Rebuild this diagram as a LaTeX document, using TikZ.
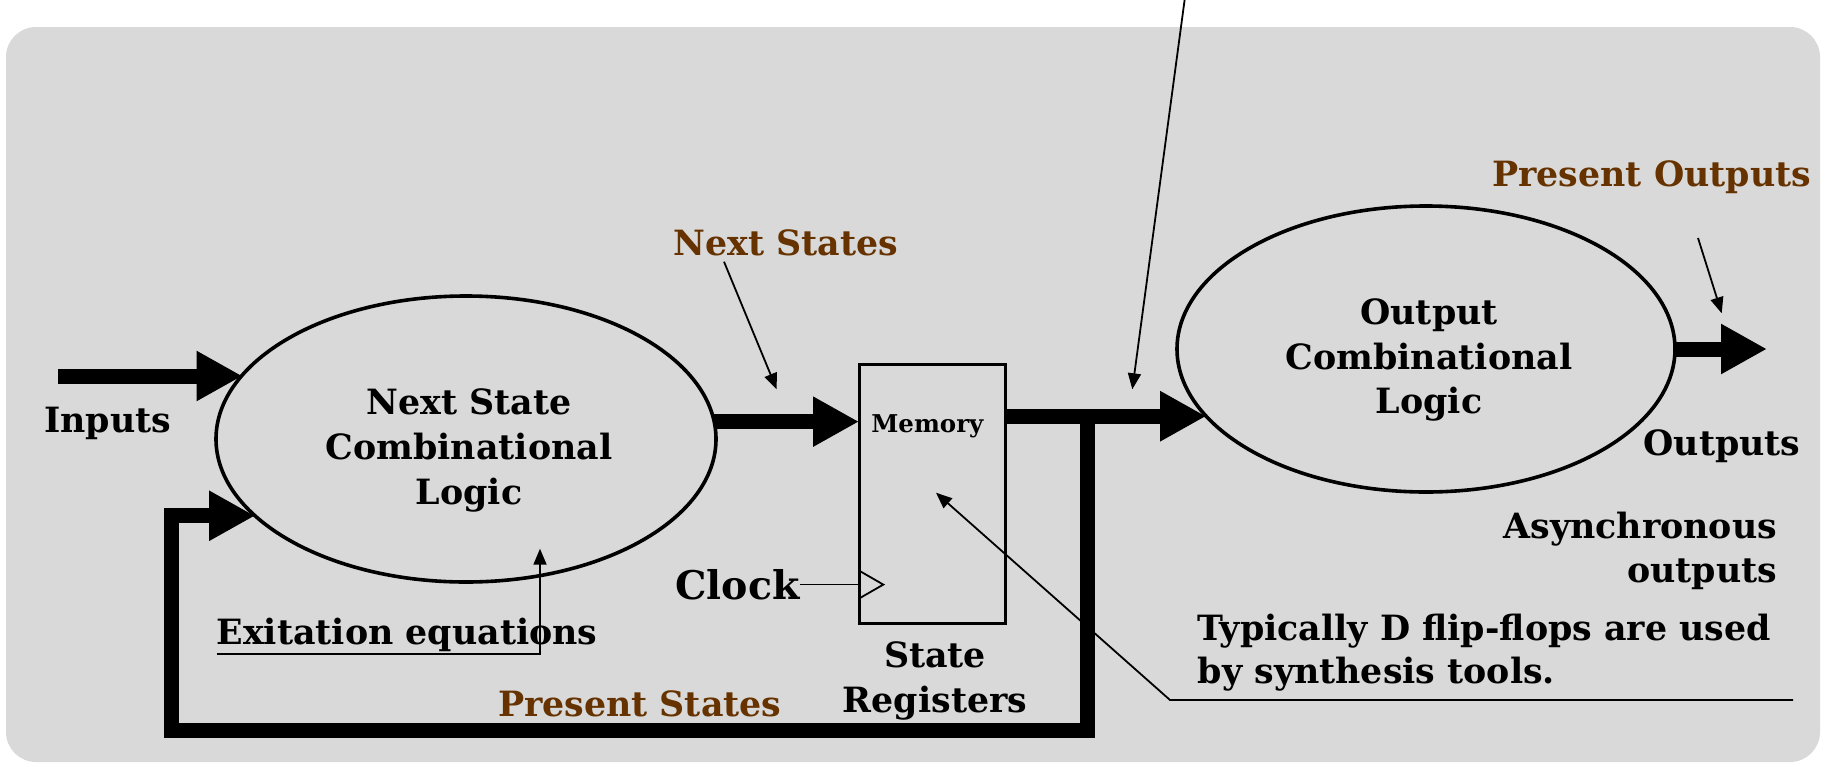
\documentclass[tikz,border=0pt]{standalone}
\usepackage{fontspec}
\setmainfont{DejaVu Serif}
\usetikzlibrary{arrows.meta,shapes.geometric}
\definecolor{panel}{HTML}{D9D9D9}
\definecolor{labelbrown}{HTML}{663300}
\begin{document}
\begin{tikzpicture}[x=1pt,y=-1pt,
  txt/.style={font=\fontsize{34.8}{40}\selectfont\bfseries, inner sep=0pt, outer sep=0pt, anchor=base},
  hint/.style={txt, text=labelbrown},
  logic/.style={ellipse, draw, line width=3.6pt, minimum width=500pt, minimum height=286pt, inner sep=0pt, outer sep=0pt},
  bus/.style={line width=15pt, line join=miter, -{Triangle[length=46pt,width=47pt]}},
  pointer/.style={line width=1.8pt, -{Triangle[length=16pt,width=13pt]}},
  wire/.style={line width=1.8pt},
]
% canvas and panel
\useasboundingbox (0,0) rectangle (1825,766);
\fill[white] (0,0) rectangle (1825,766);
\fill[panel, rounded corners=30pt] (6,27) rectangle (1820,762);

% blocks
\node[logic] (ns) at (466,439) {};
\node[logic, minimum width=498pt] (oc) at (1426,349) {};
\node[draw, line width=3pt, minimum width=146pt, minimum height=259pt, inner sep=0pt, outer sep=0pt] (mem) at (932,493.5) {};

% labels
\node[txt] (in) at (107.6,432) {Inputs};
\node[txt] (ns1) at (469,414) {Next State};
\node[txt] (ns2) at (469,459) {Combinational};
\node[txt] (ns3) at (469,504) {Logic};
\node[hint] (nsl) at (786,255) {Next States};
\node[txt, font=\fontsize{24.5}{28}\selectfont\bfseries] (memt) at (927.4,432.7) {Memory};
\node[txt, font=\fontsize{39.5}{46}\selectfont\bfseries] (clk) at (737.5,599.3) {Clock};
\node[txt] (sr1) at (935,667.7) {State};
\node[txt] (sr2) at (935,712.7) {Registers};
\node[txt, anchor=base west] (exc) at (216.7,644) {Exitation equations};
\node[hint, anchor=base west] (ps) at (498,716) {Present States};
\node[txt] (oc1) at (1429,324) {Output};
\node[txt] (oc2) at (1429,369) {Combinational};
\node[txt] (oc3) at (1429,413) {Logic};
\node[hint] (po) at (1651.7,186.7) {Present Outputs};
\node[txt] (outs) at (1722,455) {Outputs};
\node[txt, anchor=base east] (as1) at (1777,538.4) {Asynchronous};
\node[txt, anchor=base east] (as2) at (1777,582.5) {outputs};
\node[txt, anchor=base west] (ty1) at (1197.8,640) {Typically D flip-flops are used};
\node[txt, anchor=base west] (ty2) at (1197.8,683) {by synthesis tools.};

% helper points
\coordinate (inp) at (58,376);
\coordinate (jn) at (1087,417.7);
\coordinate (fb) at (171.7,730.5);
\coordinate (outtip) at (1767,349);
\coordinate (nsa) at (724,261.7);
\coordinate (nsb) at (776.7,389.3);
\coordinate (poa) at (1698,238);
\coordinate (pob) at (1721.7,313.3);
\coordinate (topa) at (1184.6,0);
\coordinate (topb) at (1132.3,389.3);
\coordinate (exa) at (216.7,654);
\coordinate (exb) at (540,654);
\coordinate (exd) at (540,548.7);
\coordinate (ffa) at (1793,700);
\coordinate (ffb) at (1170,700);
\coordinate (ffc) at (936,492.7);

% buses
\draw[bus] (inp) -- (inp -| ns.164.3);
\draw[bus] (ns.4.92) -- (ns.4.92 -| mem.west);
\draw[bus] (oc.197.68 -| mem.east) -- (oc.197.68);
\draw[bus] (jn) |- (fb) |- (ns.200.9);
\draw[bus] (oc.east) -- (outtip);

% clock input
\draw[wire] (clk.east) -- (clk.east -| mem.west) coordinate (ck);
\draw[wire, line join=miter] (ck) ++(0,-14) -- ++(24.3,14) -- ++(-24.3,14);

% annotation pointers
\draw[pointer] (nsa) -- (nsb);
\draw[pointer] (poa) -- (pob);
\draw[pointer] (topa) -- (topb);
\draw[pointer] (exa) -- (exb) -- (exd);
\draw[pointer] (ffa) -- (ffb) -- (ffc);
\end{tikzpicture}
\end{document}
